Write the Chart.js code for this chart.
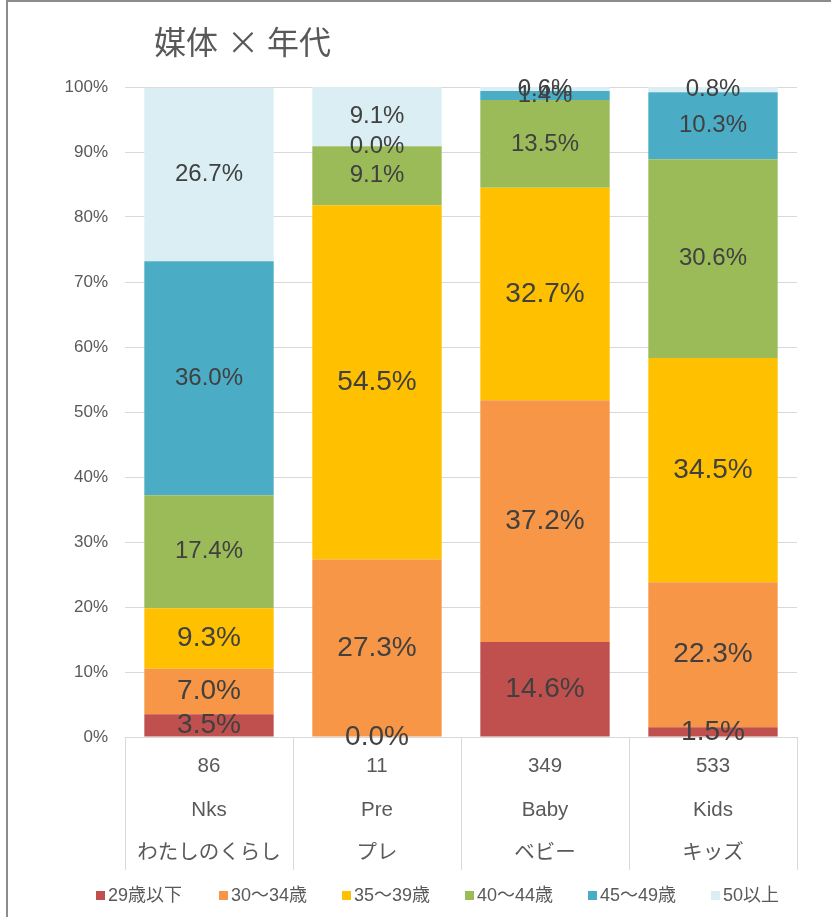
<!DOCTYPE html>
<html>
<head>
<meta charset="utf-8">
<script src="https://cdn.jsdelivr.net/npm/chart.js@4"></script>
<style>
  body { margin: 0; overflow: hidden; background: #fff; }
  #wrap { position: relative; width: 831px; height: 917px; }
  #frame { position: absolute; left: 6px; top: 0px; width: 900px; height: 1000px; border: 2px solid #8c8c8c; pointer-events: none; }
</style>
</head>
<body>
<div id="wrap">
  <canvas id="grafico" width="831" height="917"></canvas>
  <div id="frame"></div>
</div>
<script>
const categorias = [['86', 'Nks', 'わたしのくらし'], ['11', 'Pre', 'プレ'], ['349', 'Baby', 'ベビー'], ['533', 'Kids', 'キッズ']];
const faixas = ['29歳以下', '30〜34歳', '35〜39歳', '40〜44歳', '45〜49歳', '50以上'];
const cores = ['#C0504D', '#F79646', '#FFC000', '#9BBB59', '#4BACC6', '#DAEEF3'];
const tamanhoRotulo = [28, 28, 28, 24, 24, 24];

const ate29 = [3.5, 0.0, 14.6, 1.5];
const de30a34 = [7.0, 27.3, 37.2, 22.3];
const de35a39 = [9.3, 54.5, 32.7, 34.5];
const de40a44 = [17.4, 9.1, 13.5, 30.6];
const de45a49 = [36.0, 0.0, 1.4, 10.3];
const acima50 = [26.7, 9.1, 0.6, 0.8];

const series = [ate29, de30a34, de35a39, de40a44, de45a49, acima50];
const fonte = '"Liberation Sans", "Noto Sans CJK JP", sans-serif';

// rotulos no meio de cada pedaco da barra
const rotulos = {
  id: 'rotulos',
  afterDatasetsDraw(chart) {
    const ctx = chart.ctx;
    ctx.save();
    ctx.fillStyle = '#404040';
    ctx.textAlign = 'center';
    ctx.textBaseline = 'middle';
    chart.data.datasets.forEach(function (ds, i) {
      ctx.font = tamanhoRotulo[i] + 'px ' + fonte;
      chart.getDatasetMeta(i).data.forEach(function (bar, j) {
        ctx.fillText(ds.data[j].toFixed(1) + '%', bar.x, (bar.y + bar.base) / 2);
      });
    });
    ctx.restore();
  }
};

// titulo, legenda e linhas separadoras do eixo x
const extras = {
  id: 'extras',
  afterDraw(chart) {
    const ctx = chart.ctx;
    const x = chart.scales.x;
    ctx.save();
    ctx.font = '32px "Noto Sans CJK JP", sans-serif';
    ctx.fillStyle = '#595959';
    ctx.textBaseline = 'middle';
    ctx.textAlign = 'left';
    ctx.fillText('媒体', 154, 42);
    ctx.textAlign = 'center';
    ctx.fillText('×', 243, 42);
    ctx.textAlign = 'left';
    ctx.fillText('年代', 267, 42);

    ctx.strokeStyle = '#d9d9d9';
    ctx.lineWidth = 1;
    const passo = (x.right - x.left) / categorias.length;
    for (let k = 0; k <= categorias.length; k++) {
      const px = Math.round(x.left + passo * k) + 0.5;
      ctx.beginPath();
      ctx.moveTo(px, x.top);
      ctx.lineTo(px, x.bottom);
      ctx.stroke();
    }

    // legenda
    ctx.font = '18px ' + fonte;
    ctx.textAlign = 'left';
    faixas.forEach(function (nome, i) {
      const lx = 96 + i * 123;
      ctx.fillStyle = cores[i];
      ctx.fillRect(lx, 891, 9, 9);
      ctx.fillStyle = '#595959';
      ctx.fillText(nome, lx + 12, 896);
    });
    ctx.restore();
  }
};

new Chart(document.getElementById('grafico'), {
  type: 'bar',
  data: {
    labels: categorias,
    datasets: faixas.map(function (nome, i) {
      return {
        label: nome,
        data: series[i],
        backgroundColor: cores[i],
        borderWidth: 0,
        barPercentage: 0.77,
        categoryPercentage: 1
      };
    })
  },
  options: {
    responsive: false,
    animation: false,
    layout: { padding: { left: 0, right: 34, top: 87, bottom: 47 } },
    scales: {
      x: {
        stacked: true,
        grid: { display: false, drawTicks: false },
        border: { display: true, color: '#d9d9d9' },
        ticks: {
          color: '#595959',
          padding: 8,
          font: { family: fonte, size: 20.5, lineHeight: 2.12 }
        },
        afterFit: function (s) { s.height = 133; }
      },
      y: {
        stacked: true,
        min: 0,
        max: 100,
        grid: { color: '#d9d9d9', drawTicks: false },
        border: { display: false },
        ticks: {
          stepSize: 10,
          padding: 17,
          color: '#595959',
          font: { family: fonte, size: 17 },
          callback: function (v) { return v + '%'; }
        },
        afterFit: function (s) { s.width = 125; }
      }
    },
    plugins: {
      title: { display: false },
      tooltip: { enabled: false },
      legend: { display: false }
    }
  },
  plugins: [rotulos, extras]
});
</script>
</body>
</html>
